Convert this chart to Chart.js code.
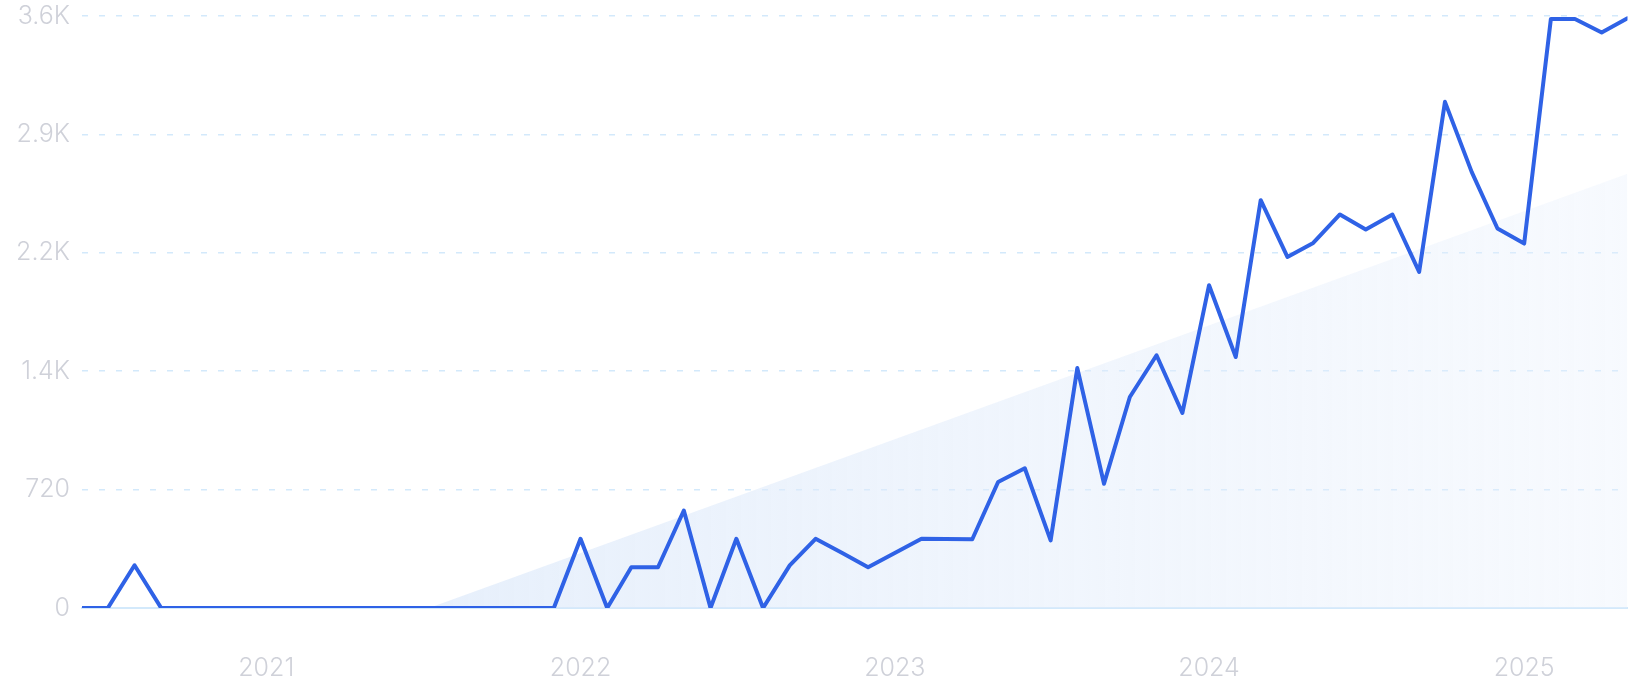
<!DOCTYPE html>
<html>
<head>
<meta charset="utf-8">
<script src="https://cdn.jsdelivr.net/npm/chart.js@4.4.1/dist/chart.umd.min.js"></script>
<style>
  html, body { margin: 0; padding: 0; background: #fff; overflow: hidden; }
  canvas { display: block; }
</style>
</head>
<body>
<canvas id="myChart" width="1632" height="700"></canvas>
<script>
// monthly search volume, Jun 2020 - May 2025
const months = [
  "2020-06", "2020-07", "2020-08", "2020-09", "2020-10", "2020-11", "2020-12",
  "2021-01", "2021-02", "2021-03", "2021-04", "2021-05", "2021-06",
  "2021-07", "2021-08", "2021-09", "2021-10", "2021-11", "2021-12",
  "2022-01", "2022-02", "2022-03", "2022-04", "2022-05", "2022-06",
  "2022-07", "2022-08", "2022-09", "2022-10", "2022-11", "2022-12",
  "2023-01", "2023-02", "2023-03", "2023-04", "2023-05", "2023-06",
  "2023-07", "2023-08", "2023-09", "2023-10", "2023-11", "2023-12",
  "2024-01", "2024-02", "2024-03", "2024-04", "2024-05", "2024-06",
  "2024-07", "2024-08", "2024-09", "2024-10", "2024-11", "2024-12",
  "2025-01", "2025-02", "2025-03", "2025-04", "2025-05"
];
const volume = [
  0, 0, 260, 0, 0, 0, 0,
  0, 0, 0, 0, 0, 0,
  0, 0, 0, 0, 0, 0,
  421, 0, 248, 248, 593, 0,
  421, 0, 259, 421, 335, 248,
  335, 421, 420, 418, 766, 850,
  411, 1459, 756, 1283, 1537, 1186,
  1963, 1526, 2480, 2135, 2220, 2393,
  2302, 2393, 2044, 3078, 2652, 2308,
  2216, 3582, 3582, 3500, 3586
];

// trend band: where it leaves zero and where it ends
const trendDates = ["2021-07-09", "2025-05-01"];
const trendValues = [0, 2640];

const yearLabels = ["2021", "2022", "2023", "2024", "2025"];
const yTicks = [0, 720, 1440, 2160, 2880, 3600];

// days since epoch, so the x axis is spaced like a calendar
function day(s) {
  const p = s.split("-").map(Number);
  return Date.UTC(p[0], p[1] - 1, p[2] || 1) / 864e5;
}

const lineData = months.map((m, i) => ({ x: day(m), y: volume[i] }));
const trendData = trendDates.map((d, i) => ({ x: day(d), y: trendValues[i] }));

const textColor = "#cfd1d9";
const gridColor = "#d3e9fb";

const config = {
  type: "line",
  data: {
    datasets: [
      {
        data: lineData,
        borderColor: "#2f62e6",
        borderWidth: 4,
        borderJoinStyle: "round",
        borderCapStyle: "round",
        pointRadius: 0,
        tension: 0,
        fill: false,
      },
      {
        data: trendData,
        borderWidth: 0,
        pointRadius: 0,
        fill: "origin",
        backgroundColor: (ctx) => {
          const area = ctx.chart.chartArea;
          if (!area) return "rgba(220,232,250,0.6)";
          const g = ctx.chart.ctx.createLinearGradient(area.left, 0, area.right, 0);
          g.addColorStop(0, "rgba(214,229,249,0.75)");
          g.addColorStop(1, "rgba(232,240,252,0.35)");
          return g;
        },
      },
    ],
  },
  options: {
    responsive: false,
    devicePixelRatio: 1,
    animation: false,
    layout: { padding: { left: 0, right: 4.5, top: 16, bottom: 0 } },
    plugins: { legend: { display: false }, tooltip: { enabled: false } },
    scales: {
      x: {
        type: "linear",
        min: day(months[0]),
        max: day(months[months.length - 1]),
        afterBuildTicks: (scale) => {
          scale.ticks = yearLabels.map((y) => ({ value: day(y + "-01-01") }));
        },
        afterFit: (scale) => {
          scale.height = 92;
        },
        grid: { display: false, drawTicks: false },
        border: { display: true, color: gridColor, width: 2 },
        ticks: {
          padding: 45,
          color: textColor,
          maxRotation: 0,
          autoSkip: false,
          font: { family: "Inter", size: 25, weight: "300" },
          callback: (v, i) => yearLabels[i],
        },
      },
      y: {
        min: 0,
        max: 3600,
        afterBuildTicks: (scale) => {
          scale.ticks = yTicks.map((v) => ({ value: v }));
        },
        afterFit: (scale) => {
          scale.width = 82;
          scale.paddingTop = 0;
          scale.paddingBottom = 0;
        },
        grid: { color: gridColor, lineWidth: 1.5, drawTicks: false },
        border: { display: false, dash: [6, 11] },
        ticks: {
          padding: 12,
          color: textColor,
          font: { family: "Inter", size: 25, weight: "300" },
          callback: (v) => (v < 1000 ? String(v) : (v / 1000).toFixed(1) + "K"),
        },
      },
    },
  },
};

const myChart = new Chart(document.getElementById("myChart"), config);
</script>
</body>
</html>
